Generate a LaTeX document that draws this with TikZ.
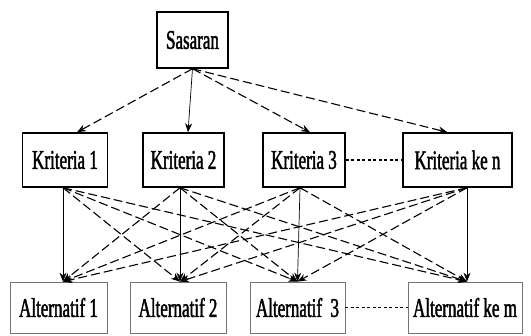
\documentclass[tikz,border=0pt]{standalone}
\usepackage{fontspec}
\setmainfont[FakeStretch=0.63,FakeBold=1.6]{Liberation Serif}
\usetikzlibrary{positioning,arrows.meta}

\begin{document}
\begin{tikzpicture}[x=1pt,y=-1pt,
  every node/.style={draw,line width=1.5pt,inner sep=0pt,minimum height=54pt,font=\fontsize{27}{29}\selectfont},
  alt/.style={line width=0.7pt,draw=black!55,minimum height=51pt},
  link/.style={line width=1.1pt,-{Stealth[length=9pt,width=7pt]}},
  straight/.style={line width=0.7pt},
  broken/.style={dash pattern=on 9pt off 4pt},
  dots/.style={line width=1.5pt,dash pattern=on 3pt off 2.5pt}]
\useasboundingbox (0,0) rectangle (531,336);
\node[minimum width=71pt,minimum height=56pt] (sasaran) at (192.5,40) {Sasaran};
\node[minimum width=85pt] (k1) at (65,160) {Kriteria 1};
\node[minimum width=81pt] (k2) at (183.5,160) {Kriteria 2};
\node[minimum width=82pt] (k3) at (304,160) {Kriteria 3};
\node[minimum width=109pt] (kn) at (457.5,160) {Kriteria ke n};
\node[alt,minimum width=97pt] (a1) at (58.5,307.5) {Alternatif 1};
\node[alt,minimum width=96pt] (a2) at (178,307.5) {Alternatif 2};
\node[alt,minimum width=95pt] (a3) at (297.5,307.5) {Alternatif~~3};
\node[alt,minimum width=114pt] (am) at (465,307.5) {Alternatif ke m};
% sasaran ke kriteria
\draw[link,broken] (sasaran.south) -- ([xshift=12pt]k1.north);
\draw[link,straight] (sasaran.south) -- ([xshift=4.5pt]k2.north);
\draw[link,broken] (sasaran.south) -- ([xshift=6pt]k3.north);
\draw[link,broken] (sasaran.south) -- ([xshift=-10pt]kn.north);
\draw[dots] (k3) -- (kn);
\draw[dots] (a3) -- (am);
% kriteria ke alternatif
\foreach \k/\kx [count=\i] in {k1/-2,k2/-3.5,k3/-4,kn/9.5}
  \foreach \a/\ax [count=\j] in {a1/4.5,a2/2,a3/0,am/2}
    {\ifnum\i=\j \draw[link,straight] ([xshift=\kx pt]\k.south) -- ([xshift=\ax pt]\a.north);
     \else \draw[link,broken] ([xshift=\kx pt]\k.south) -- ([xshift=\ax pt]\a.north); \fi}
\end{tikzpicture}
\end{document}
